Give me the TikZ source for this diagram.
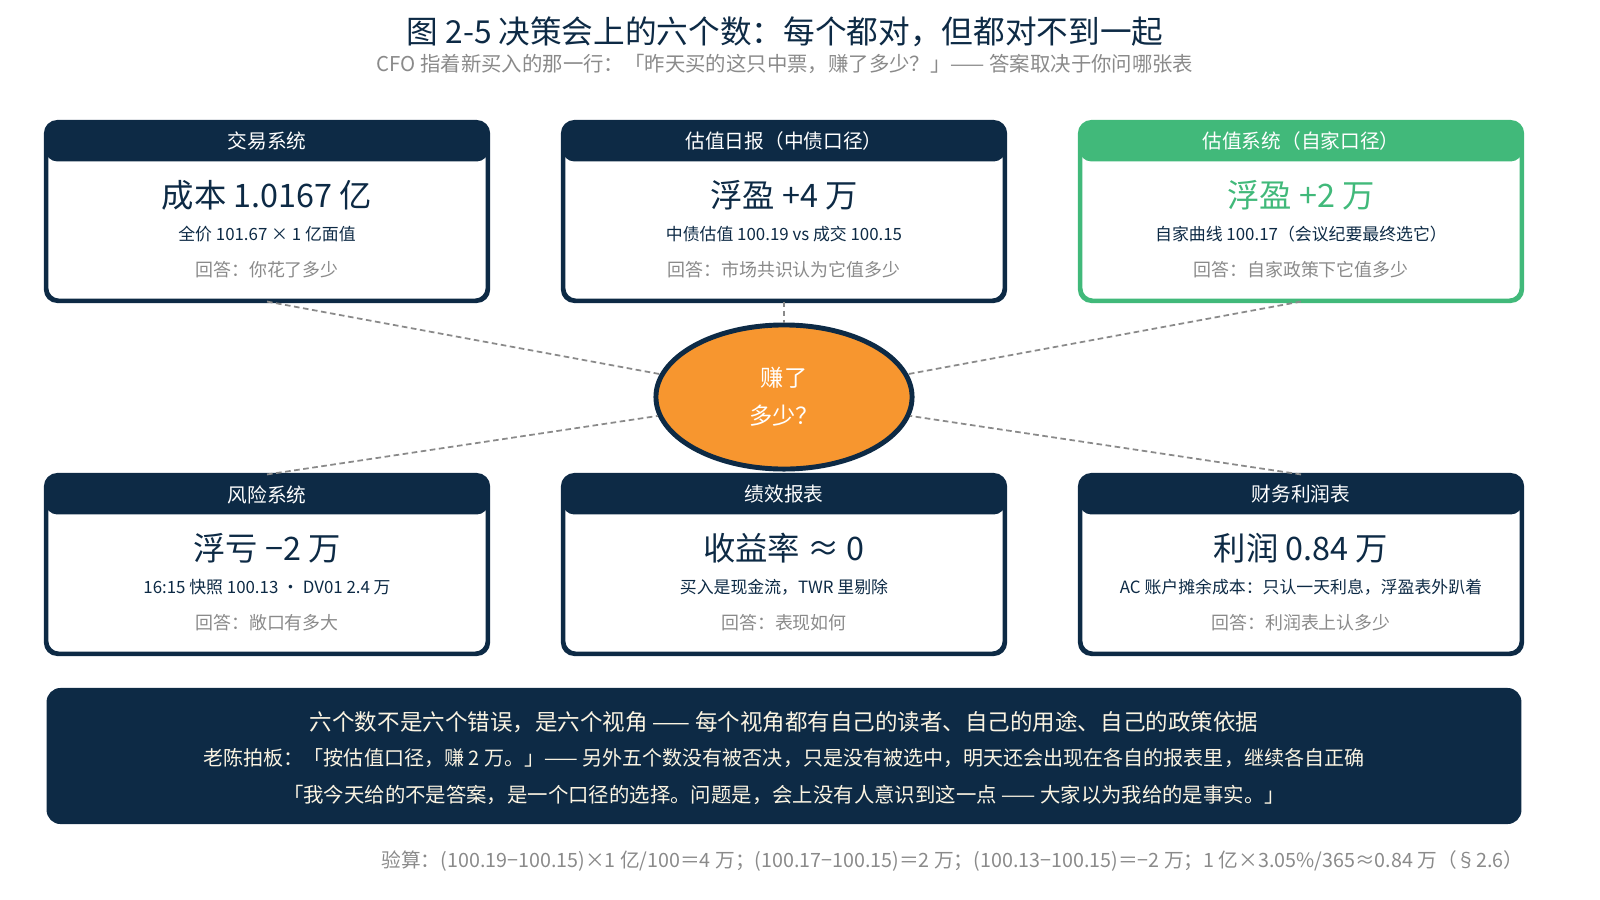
\documentclass[tikz,border=0pt]{standalone}
\usepackage{fontspec}
\setmainfont{Noto Sans CJK SC}
\usetikzlibrary{shapes.geometric}
\definecolor{navy}{HTML}{0D2A45}
\definecolor{leaf}{HTML}{41B97A}
\definecolor{amber}{HTML}{F7962F}
\definecolor{ash}{HTML}{8A8A8A}
\definecolor{cream}{HTML}{FBF4E2}
\newcommand{\fs}[1]{\fontsize{#1}{#1}\selectfont}
% one card: name, x, y, header, frame colour, value colour, value, detail, answer
\newcommand{\card}[9]{%
  \node[card,draw=#5] (#1) at (#2,#3) {};
  \fill[#5,rounded corners=0.12cm] (#1.north west) rectangle ([yshift=-0.4cm]#1.north east);
  \draw[#5,line width=0.85pt,rounded corners=0.12cm] (#1.north west) rectangle (#1.south east);
  \node[head] (#1h) at ([yshift=-0.2cm]#1.north) {#4};
  \node[big,text=#6] (#1b) at ([yshift=-0.74cm]#1.north) {#7};
  \node[small] (#1s) at ([yshift=-1.13cm]#1.north) {#8};
  \node[answer] (#1a) at ([yshift=-1.48cm]#1.north) {#9};}

\begin{document}
\begin{tikzpicture}[x=0.01cm,y=-0.01cm,
    card/.style={draw=navy,line width=0.85pt,rounded corners=0.12cm,minimum width=4.4cm,minimum height=1.77cm,inner sep=0pt},
    big/.style={text=navy,font=\fs{9.2pt}},
    small/.style={text=navy,font=\fs{4.8pt}},
    answer/.style={text=ash,font=\fs{5.1pt}},
    head/.style={text=white,font=\fs{5.6pt}},
    link/.style={draw=ash,dash pattern=on 1.6pt off 1pt,line width=0.5pt}]
  \useasboundingbox (0,0) rectangle (1600,900);

  \node[text=navy,font=\fs{9pt}] (title) at (785,32) {图 2-5 决策会上的六个数：每个都对，但都对不到一起};
  \node[text=ash,font=\fs{5.8pt}] (sub) at (785,64) {CFO 指着新买入的那一行：「昨天买的这只中票，赚了多少？」—— 答案取决于你问哪张表};

  % six cards
  \card{trade}{267}{211.5}{交易系统}{navy}{navy}{成本 1.0167 亿}{全价 101.67 × 1 亿面值}{回答：你花了多少}
  \card{daily}{784}{211.5}{估值日报（中债口径）}{navy}{navy}{浮盈 +4 万}{中债估值 100.19 vs 成交 100.15}{回答：市场共识认为它值多少}
  \card{own}{1301}{211.5}{估值系统（自家口径）}{leaf}{leaf}{浮盈 +2 万}{自家曲线 100.17（会议纪要最终选它）}{回答：自家政策下它值多少}
  \card{risk}{267}{564.5}{风险系统}{navy}{navy}{浮亏 −2 万}{16:15 快照 100.13 · DV01 2.4 万}{回答：敞口有多大}
  \card{perf}{784}{564.5}{绩效报表}{navy}{navy}{收益率 ≈ 0}{买入是现金流，TWR 里剔除}{回答：表现如何}
  \card{pnl}{1301}{564.5}{财务利润表}{navy}{navy}{利润 0.84 万}{AC 账户摊余成本：只认一天利息，浮盈表外趴着}{回答：利润表上认多少}

  \node[ellipse,draw=navy,line width=1.4pt,fill=amber,minimum width=2.56cm,minimum height=1.44cm,
    text=white,align=center,font=\fs{6.6pt}] (core) at (784,397) {赚了\\[1.2ex]多少？};

  \draw[link] (trade.south) -- (core);
  \draw[link] (daily.south) -- (core);
  \draw[link] (own.south) -- (core);
  \draw[link] (risk.north) -- (core);
  \draw[link] (pnl.north) -- (core);

  \node[fill=navy,rounded corners=0.14cm,minimum width=14.74cm,minimum height=1.36cm] (note) at (784,756) {};
  \node[text=cream,font=\fs{6.4pt}] (note1) at (784,722) {六个数不是六个错误，是六个视角 —— 每个视角都有自己的读者、自己的用途、自己的政策依据};
  \node[text=cream,font=\fs{5.7pt}] (note2) at (784,758) {老陈拍板：「按估值口径，赚 2 万。」—— 另外五个数没有被否决，只是没有被选中，明天还会出现在各自的报表里，继续各自正确};
  \node[text=cream,font=\fs{5.8pt}] (note3) at (784,795) {「我今天给的不是答案，是一个口径的选择。问题是，会上没有人意识到这一点 —— 大家以为我给的是事实。」};

  \node[text=ash,font=\fs{5.6pt},anchor=east] (check) at (1536,861) {验算：(100.19−100.15)×1 亿/100＝4 万；(100.17−100.15)＝2 万；(100.13−100.15)＝−2 万；1 亿×3.05\%/365≈0.84 万（§2.6）};
\end{tikzpicture}
\end{document}
